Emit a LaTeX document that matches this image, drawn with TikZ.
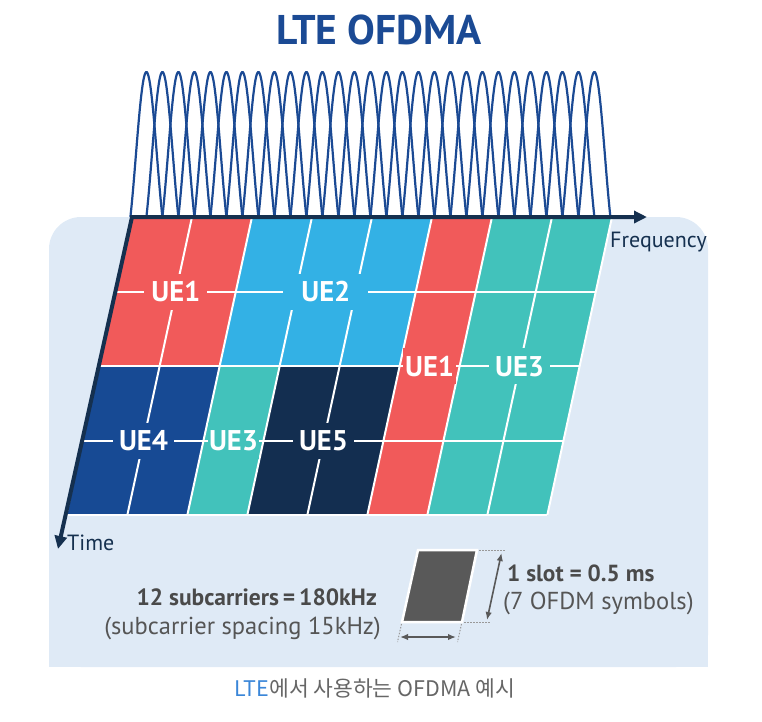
\documentclass[tikz,border=0pt]{standalone}
\usepackage{fontspec}
\setmainfont{PT Sans}
\newfontfamily\krfont{Noto Sans CJK KR}
\usetikzlibrary{arrows.meta,calc}
\definecolor{panelc}{HTML}{DFEAF6}
\definecolor{ured}{HTML}{F15A5A}
\definecolor{ublue}{HTML}{33B1E5}
\definecolor{uteal}{HTML}{42C2BB}
\definecolor{udark}{HTML}{174A94}
\definecolor{unavy}{HTML}{132E50}
\definecolor{axisc}{HTML}{15304F}
\definecolor{sincc}{HTML}{1B4A94}
\definecolor{titlec}{HTML}{1B4A94}
\definecolor{slotc}{HTML}{595959}
\definecolor{txtbold}{HTML}{4A4A4A}
\definecolor{txtreg}{HTML}{555555}
\definecolor{capblue}{HTML}{3A86D8}
\definecolor{capgray}{HTML}{666666}
\tikzset{
  gridline/.style={white, line width=2pt},
  sinc/.style={sincc, line width=2.2pt},
  axisline/.style={axisc, line width=4pt, line join=miter},
  uelabel/.style={text=white, font=\bfseries\fontsize{28.5}{28.5}\selectfont,
    inner ysep=8pt, text height=20pt, text depth=0pt},
  axislabel/.style={text=axisc, font=\fontsize{22}{22}\selectfont, inner sep=0pt},
  dotline/.style={gray!80, line width=1pt, dash pattern=on 1.5pt off 1.5pt},
  dimarrow/.style={slotc, line width=1.6pt, {Latex[length=8pt,width=6.5pt]}-{Latex[length=8pt,width=6.5pt]}},
}
\begin{document}
\begin{tikzpicture}[x=1pt,y=-1pt]
\useasboundingbox (0,0) rectangle (762,721);
% panel
\fill[panelc, rounded corners=32pt] (49,217) rectangle (708,667);
\fill[panelc] (49,600) rectangle (708,667);
% title
\node[anchor=base, text=titlec, font=\bfseries\fontsize{41.5}{41.5}\selectfont, inner sep=0pt] (title) at (379,44) {LTE OFDMA};
% sinc subcarriers
\foreach \k in {0,...,28}
  \draw[sinc] plot[domain=-1:1, samples=40, smooth]
    ({146.4+16*\k+16*\x},{217-145*sin(180*\x)/(3.14159*\x)});
% grid coordinates
\foreach \r/\yy in {0/217,1/291.5,2/366,3/440.5,4/515}{
  \foreach \k in {0,...,8}{
    \coordinate (g\k-\r) at ({132+60*\k-0.217*(\yy-217)},{\yy});
  }
}
% blocks
\fill[ured]  (g0-0) -- (g2-0) -- (g2-2) -- (g0-2) -- cycle;
\fill[ublue] (g2-0) -- (g5-0) -- (g5-2) -- (g2-2) -- cycle;
\fill[ured]  (g5-0) -- (g6-0) -- (g6-4) -- (g5-4) -- cycle;
\fill[uteal] (g6-0) -- (g8-0) -- (g8-4) -- (g6-4) -- cycle;
\fill[udark] (g0-2) -- (g2-2) -- (g2-4) -- (g0-4) -- cycle;
\fill[uteal] (g2-2) -- (g3-2) -- (g3-4) -- (g2-4) -- cycle;
\fill[unavy] (g3-2) -- (g5-2) -- (g5-4) -- (g3-4) -- cycle;
% white grid lines
\foreach \k in {1,...,8} \draw[gridline] (g\k-0) -- (g\k-4);
\foreach \r in {1,...,4} \draw[gridline] (g0-\r) -- (g8-\r);
% labels
\node[uelabel, fill=ured,  inner xsep=7pt]  (ue1a) at ($(g0-1)!0.5!(g2-1)$) {UE1};
\node[uelabel, fill=ublue, inner xsep=18pt] (ue2)  at ($(g2-1)!0.5!(g5-1)$) {UE2};
\node[uelabel, fill=ured,  inner xsep=2pt]  (ue1b) at ($(g5-2)!0.5!(g6-2)$) {UE1};
\node[uelabel, fill=uteal, inner xsep=6pt]  (ue3a) at ($(g6-2)!0.5!(g8-2)$) {UE3};
\node[uelabel, fill=udark, inner xsep=6pt]  (ue4)  at ($(g0-3)!0.5!(g2-3)$) {UE4};
\node[uelabel, fill=uteal, inner xsep=1pt]  (ue3b) at ($(g2-3)!0.5!(g3-3)$) {UE3};
\node[uelabel, fill=unavy, inner xsep=6pt]  (ue5)  at ($(g3-3)!0.5!(g5-3)$) {UE5};
% axes
\coordinate (origin) at (132,217);
\coordinate (fend) at (647,217);
\coordinate (tend) at (58,549);
\draw[axisline, {Triangle[length=13pt,width=12pt]}-{Triangle[length=13pt,width=12pt]}] (fend) -- (origin) -- (tend);
\node[axislabel, anchor=base west] (freq) at (610,247) {Frequency};
\node[axislabel, anchor=base west] (time) at (67,550) {Time};
% slot legend
\coordinate (s1) at (418,550);
\coordinate (s2) at (477,550);
\coordinate (s3) at (462,622);
\coordinate (s4) at (402,622);
\filldraw[fill=slotc, draw=white, line width=2.5pt, line join=miter] (s1) -- (s2) -- (s3) -- (s4) -- cycle;
\coordinate (d1) at (505,550);
\coordinate (d2) at (490,622);
\coordinate (d3) at (397.5,642);
\coordinate (d4) at (457.5,642);
\draw[dotline] ($(s2)+(2,0)$) -- (d1);
\draw[dotline] ($(s3)+(2,0)$) -- (d2);
\draw[dotline] ($(s4)+(-0.5,2)$) -- (d3);
\draw[dotline] ($(s3)+(-0.5,2)$) -- (d4);
\coordinate (va1) at (501.5,553);
\coordinate (va2) at (487,620);
\draw[dimarrow] (va1) -- (va2);
\coordinate (ha1) at (400,637);
\coordinate (ha2) at (456,637);
\draw[dimarrow] (ha1) -- (ha2);
\node[anchor=base west, inner sep=0pt, text=txtbold, font=\bfseries\fontsize{23.3}{23.3}\selectfont] (slot) at (507,581) {1 slot = 0.5 ms};
\node[anchor=base west, inner sep=0pt, text=txtreg, font=\fontsize{24.5}{24.5}\selectfont] (sym) at (503,609) {(7 OFDM symbols)};
\node[anchor=base east, inner sep=0pt, text=txtbold, font=\bfseries\fontsize{23.5}{23.5}\selectfont] (sub) at (377,605) {12 subcarriers\,=\,180kHz};
\node[anchor=base east, inner sep=0pt, text=txtreg, font=\fontsize{24.5}{24.5}\selectfont] (spc) at (381,634) {(subcarrier spacing 15kHz)};
% caption
\node[anchor=base, inner sep=0pt, text=capgray, font=\krfont\fontsize{21.5}{21.5}\selectfont] (cap) at (375,696) {\textcolor{capblue}{LTE}에서 사용하는 OFDMA 예시};
\end{tikzpicture}
\end{document}
